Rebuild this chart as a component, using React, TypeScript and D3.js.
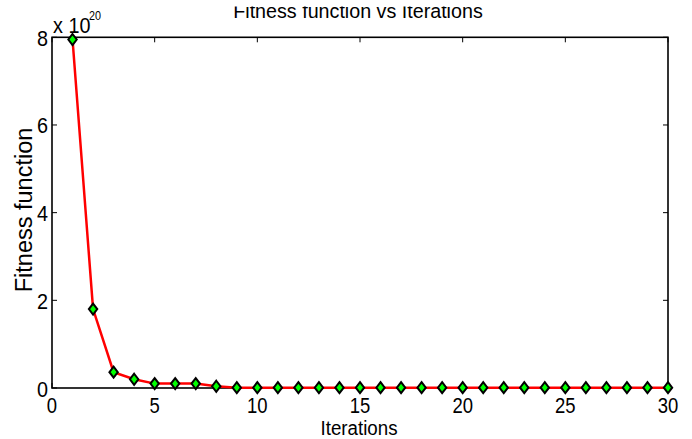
import React from "react";
import * as d3 from "d3";

const iterations = [1,2,3,4,5,6,7,8,9,10,11,12,13,14,15,16,17,18,19,20,21,22,23,24,25,26,27,28,29,30];
const fitness = [7.95,1.8,0.36,0.2,0.1,0.1,0.1,0.04,0.008,0.008,0.008,0.008,0.008,0.008,0.008,0.008,0.008,0.008,0.008,0.008,0.008,0.008,0.008,0.008,0.008,0.008,0.008,0.008,0.008,0.008];
const xTicks = [0,5,10,15,20,25,30];
const yTicks = [0,2,4,6,8];
const titleText = "Fitness function vs Iterations";
const xLabel = "Iterations";
const yLabel = "Fitness function";

const W = 692, H = 439;
const L = 52, R = 668, T = 37.3, B = 388;
const FONT = "Arial, 'Liberation Sans', Helvetica, sans-serif";

export default function App() {
  const x = d3.scaleLinear().domain([0, 30]).range([L, R]);
  const y = d3.scaleLinear().domain([0, 8]).range([B, T]);
  const line = d3.line<number>().x((_, i) => x(iterations[i])).y((d) => y(d));
  const tk = 5;
  return (
    <svg width={W} height={H} style={{ position: "absolute", left: 0, top: 0, background: "#fff" }} fontFamily={FONT}>
      <rect x={0} y={0} width={W} height={H} fill="#fff" />
      {/* title */}
      <text x={358} y={18} textAnchor="middle" fontSize={19.7} fill="#000">{titleText}</text>
      <rect x={0} y={0} width={W} height={6.5} fill="#fff" />
      {/* axes box */}
      <rect x={L} y={T} width={R - L} height={B - T} fill="none" stroke="#000" strokeWidth={1.6} />
      {/* ticks */}
      {xTicks.map((t) => (
        <g key={"x" + t}>
          <line x1={x(t)} x2={x(t)} y1={B} y2={B - tk} stroke="#000" strokeWidth={1} />
          <line x1={x(t)} x2={x(t)} y1={T} y2={T + tk} stroke="#000" strokeWidth={1} />
          <text transform={`translate(${x(t)},413) scale(0.86,1)`} textAnchor="middle" fontSize={21.5} fill="#000">{t}</text>
        </g>
      ))}
      {yTicks.map((t) => (
        <g key={"y" + t}>
          <line x1={L} x2={L + tk} y1={y(t)} y2={y(t)} stroke="#000" strokeWidth={1} />
          <line x1={R} x2={R - tk} y1={y(t)} y2={y(t)} stroke="#000" strokeWidth={1} />
          <text transform={`translate(48,${y(t) + 8.5}) scale(0.9,1)`} textAnchor="end" fontSize={22} fill="#000">{t}</text>
        </g>
      ))}
      {/* exponent */}
      <text transform="translate(53,33) scale(0.9,1)" fontSize={22} fill="#000">x 10</text>
      <text transform="translate(89,20) scale(0.9,1)" fontSize={12} fill="#000">20</text>
      {/* labels */}
      <text transform="translate(359,434.6) scale(0.96,1)" textAnchor="middle" fontSize={19.5} fill="#000">{xLabel}</text>
      <text transform="translate(32,210) rotate(-90)" textAnchor="middle" fontSize={23.5} fill="#000">{yLabel}</text>
      {/* data line */}
      <path d={line(fitness) || ""} fill="none" stroke="#ff0000" strokeWidth={2.5} />
      {fitness.map((v, i) => {
        const cx = x(iterations[i]);
        const cy = y(v);
        return (
          <path key={i} d={`M${cx},${cy - 5.5}L${cx + 4.2},${cy}L${cx},${cy + 5.5}L${cx - 4.2},${cy}Z`} fill="#00ff00" stroke="#000" strokeWidth={2} />
        );
      })}
    </svg>
  );
}
